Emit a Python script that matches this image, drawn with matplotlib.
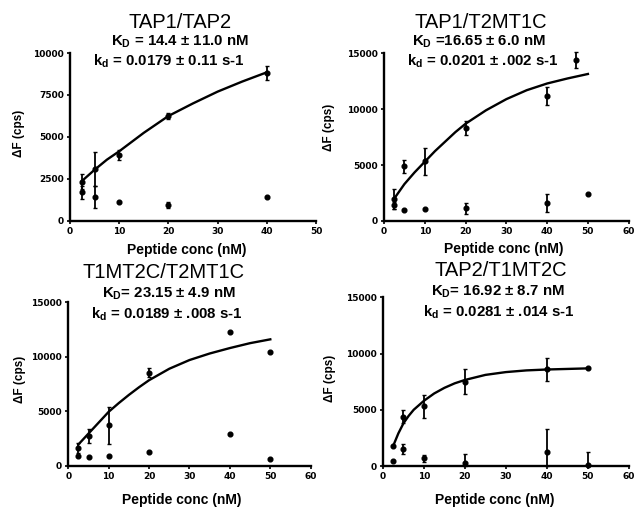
import numpy as np
import matplotlib
matplotlib.use("Agg")
import matplotlib.pyplot as plt

plt.rcParams['font.family'] = ['Liberation Sans', 'DejaVu Sans']
plt.rcParams['mathtext.fontset'] = 'custom'
plt.rcParams['mathtext.rm'] = 'Liberation Sans:bold'
plt.rcParams['mathtext.bf'] = 'Liberation Sans:bold'
plt.rcParams['mathtext.it'] = 'Liberation Sans:bold'

# ---------------- data ----------------
titles = ["TAP1/TAP2", "TAP1/T2MT1C", "T1MT2C/T2MT1C", "TAP2/T1MT2C"]
kd_texts = [r"K$_\mathbf{D}$ = 14.4 ± 11.0 nM",
            r"K$_\mathbf{D}$ =16.65 ± 6.0 nM",
            r"K$_\mathbf{D}$= 23.15 ± 4.9 nM",
            r"K$_\mathbf{D}$= 16.92 ± 8.7 nM"]
koff_texts = [r"k$_\mathbf{d}$ = 0.0179 ± 0.11 s-1",
              r"k$_\mathbf{d}$ = 0.0201 ± .002 s-1",
              r"k$_\mathbf{d}$ = 0.0189 ± .008 s-1",
              r"k$_\mathbf{d}$ = 0.0281 ± .014 s-1"]
xlabel = "Peptide conc (nM)"
ylabel = "ΔF (cps)"

# TAP1/TAP2
tl_curve_x = [2.5, 5, 7.5, 10, 12.5, 15, 17.5, 20, 25, 30, 35, 40]
tl_curve_y = [2400, 3050, 3650, 4150, 4700, 5250, 5750, 6250, 7000, 7700, 8300, 8850]
tl_up_x = [2.5, 5, 10, 20, 40]
tl_up_y = [2350, 3100, 3950, 6250, 8800]
tl_up_err = [450, 1000, 300, 150, 400]
tl_lo_x = [2.5, 5, 10, 20, 40]
tl_lo_y = [1700, 1450, 1150, 950, 1400]
tl_lo_err = [400, 650, 0, 200, 0]

# TAP1/T2MT1C
tr_curve_x = [2.5, 5, 7.5, 10, 12.5, 15, 17.5, 20, 25, 30, 35, 40, 45, 50]
tr_curve_y = [2000, 3300, 4350, 5300, 6250, 7100, 7950, 8700, 9900, 10900, 11700, 12300, 12750, 13150]
tr_up_x = [2.5, 5, 10, 20, 40, 47]
tr_up_y = [2000, 4900, 5350, 8300, 11150, 14400]
tr_up_err = [900, 600, 1200, 600, 800, 700]
tr_lo_x = [2.5, 5, 10, 20, 40, 50]
tr_lo_y = [1400, 950, 1100, 1150, 1600, 2400]
tr_lo_err = [300, 0, 0, 500, 800, 0]

# T1MT2C/T2MT1C
bl_curve_x = [2.5, 5, 7.5, 10, 12.5, 15, 17.5, 20, 25, 30, 35, 40, 45, 50]
bl_curve_y = [1950, 2950, 3950, 4950, 5750, 6500, 7200, 7850, 8900, 9700, 10300, 10800, 11250, 11600]
bl_up_x = [2.5, 5, 10, 20, 40, 50]
bl_up_y = [1600, 2700, 3700, 8550, 12250, 10400]
bl_up_err = [450, 650, 1700, 450, 0, 0]
bl_lo_x = [2.5, 5, 10, 20, 40, 50]
bl_lo_y = [850, 780, 900, 1280, 2950, 620]
bl_lo_err = [0, 0, 0, 0, 0, 0]

# TAP2/T1MT2C
br_curve_x = [2.5, 3.75, 5, 6.25, 7.5, 10, 12.5, 15, 17.5, 20, 25, 30, 35, 40, 45, 50]
br_curve_y = [1800, 2900, 3800, 4450, 5000, 5800, 6450, 6950, 7350, 7650, 8100, 8350, 8500, 8580, 8630, 8680]
br_up_x = [2.5, 5, 10, 20, 40, 50]
br_up_y = [1800, 4400, 5300, 7500, 8600, 8700]
br_up_err = [0, 600, 1000, 1100, 1000, 0]
br_lo_x = [2.5, 5, 10, 20, 40, 50]
br_lo_y = [480, 1550, 680, 250, 1250, 60]
br_lo_err = [0, 450, 300, 800, 2050, 1200]

panels = [
    dict(curve=(tl_curve_x, tl_curve_y), up=(tl_up_x, tl_up_y, tl_up_err),
         lo=(tl_lo_x, tl_lo_y, tl_lo_err), xlim=50, ylim=10000, yticks=[0, 2500, 5000, 7500, 10000]),
    dict(curve=(tr_curve_x, tr_curve_y), up=(tr_up_x, tr_up_y, tr_up_err),
         lo=(tr_lo_x, tr_lo_y, tr_lo_err), xlim=60, ylim=15000, yticks=[0, 5000, 10000, 15000]),
    dict(curve=(bl_curve_x, bl_curve_y), up=(bl_up_x, bl_up_y, bl_up_err),
         lo=(bl_lo_x, bl_lo_y, bl_lo_err), xlim=60, ylim=15000, yticks=[0, 5000, 10000, 15000]),
    dict(curve=(br_curve_x, br_curve_y), up=(br_up_x, br_up_y, br_up_err),
         lo=(br_lo_x, br_lo_y, br_lo_err), xlim=60, ylim=15000, yticks=[0, 5000, 10000, 15000]),
]

# ---------------- layout (pixels) ----------------
W, H = 636, 509
fig = plt.figure(figsize=(W / 100, H / 100), dpi=100)
fig.patch.set_facecolor('white')

# axes boxes: x0px, x1px, ybottom_px, ytop_px
boxes = [(70, 316, 221, 53), (384, 628.7, 221, 53.3),
         (68.3, 310.7, 465.7, 302.3), (383, 628.7, 466, 297.3)]
# text positions (px): title, KD, kd, xlabel, ylabel
title_pos = [(180, 22), (481, 22), (164, 273), (501, 271)]
kd_pos = [(180, 42), (479, 42), (169, 294), (498, 292)]
koff_pos = [(169, 61), (483, 61), (167, 314), (499, 312)]
xlab_pos = [(187, 250), (504, 249), (182, 500), (495, 500)]
ylab_pos = [(19, 133), (329, 127), (20, 379), (330, 378)]

def fx(px):
    return px / W

def fy(py):
    return 1 - py / H

for i, p in enumerate(panels):
    x0, x1, yb, yt = boxes[i]
    ax = fig.add_axes([fx(x0), fy(yb), (x1 - x0) / W, (yb - yt) / H])
    ax.set_xlim(0, p['xlim'])
    ax.set_ylim(0, p['ylim'])
    ax.set_xticks(np.arange(0, p['xlim'] + 1, 10))
    ax.set_yticks(p['yticks'])
    for s in ['top', 'right']:
        ax.spines[s].set_visible(False)
    for s in ['left', 'bottom']:
        ax.spines[s].set_linewidth(1.7)
    ax.tick_params(direction='out', length=2.5, width=1.2, labelsize=6.5, pad=2)
    for lab in ax.get_xticklabels() + ax.get_yticklabels():
        lab.set_fontweight('bold')
        lab.set_family('DejaVu Sans')

    cx, cy = p['curve']
    ax.plot(cx, cy, color='black', lw=1.7, clip_on=False, zorder=3,
            solid_joinstyle='round')

    for key in ['up', 'lo']:
        xs, ys, es = p[key]
        ys = np.asarray(ys, float)
        es = np.asarray(es, float)
        yerr = [np.minimum(es, ys), es]
        ax.errorbar(xs, ys, yerr=yerr, fmt='o', color='black', ms=3.4,
                    elinewidth=1.3, capsize=1.2, capthick=1.0, clip_on=False, zorder=4)

    fig.text(fx(title_pos[i][0]), fy(title_pos[i][1]), titles[i], ha='center', va='center',
             fontsize=14.5)
    fig.text(fx(kd_pos[i][0]), fy(kd_pos[i][1]), kd_texts[i], ha='center', va='center',
             fontsize=10.8, fontweight='bold')
    fig.text(fx(koff_pos[i][0]), fy(koff_pos[i][1]), koff_texts[i], ha='center', va='center',
             fontsize=10.8, fontweight='bold')
    fig.text(fx(xlab_pos[i][0]), fy(xlab_pos[i][1]), xlabel, ha='center', va='center',
             fontsize=10, fontweight='bold')
    fig.text(fx(ylab_pos[i][0]), fy(ylab_pos[i][1]), ylabel, ha='center', va='center',
             fontsize=8.5, fontweight='bold', rotation=90)

fig.savefig('out.png', dpi=100, facecolor='white')
